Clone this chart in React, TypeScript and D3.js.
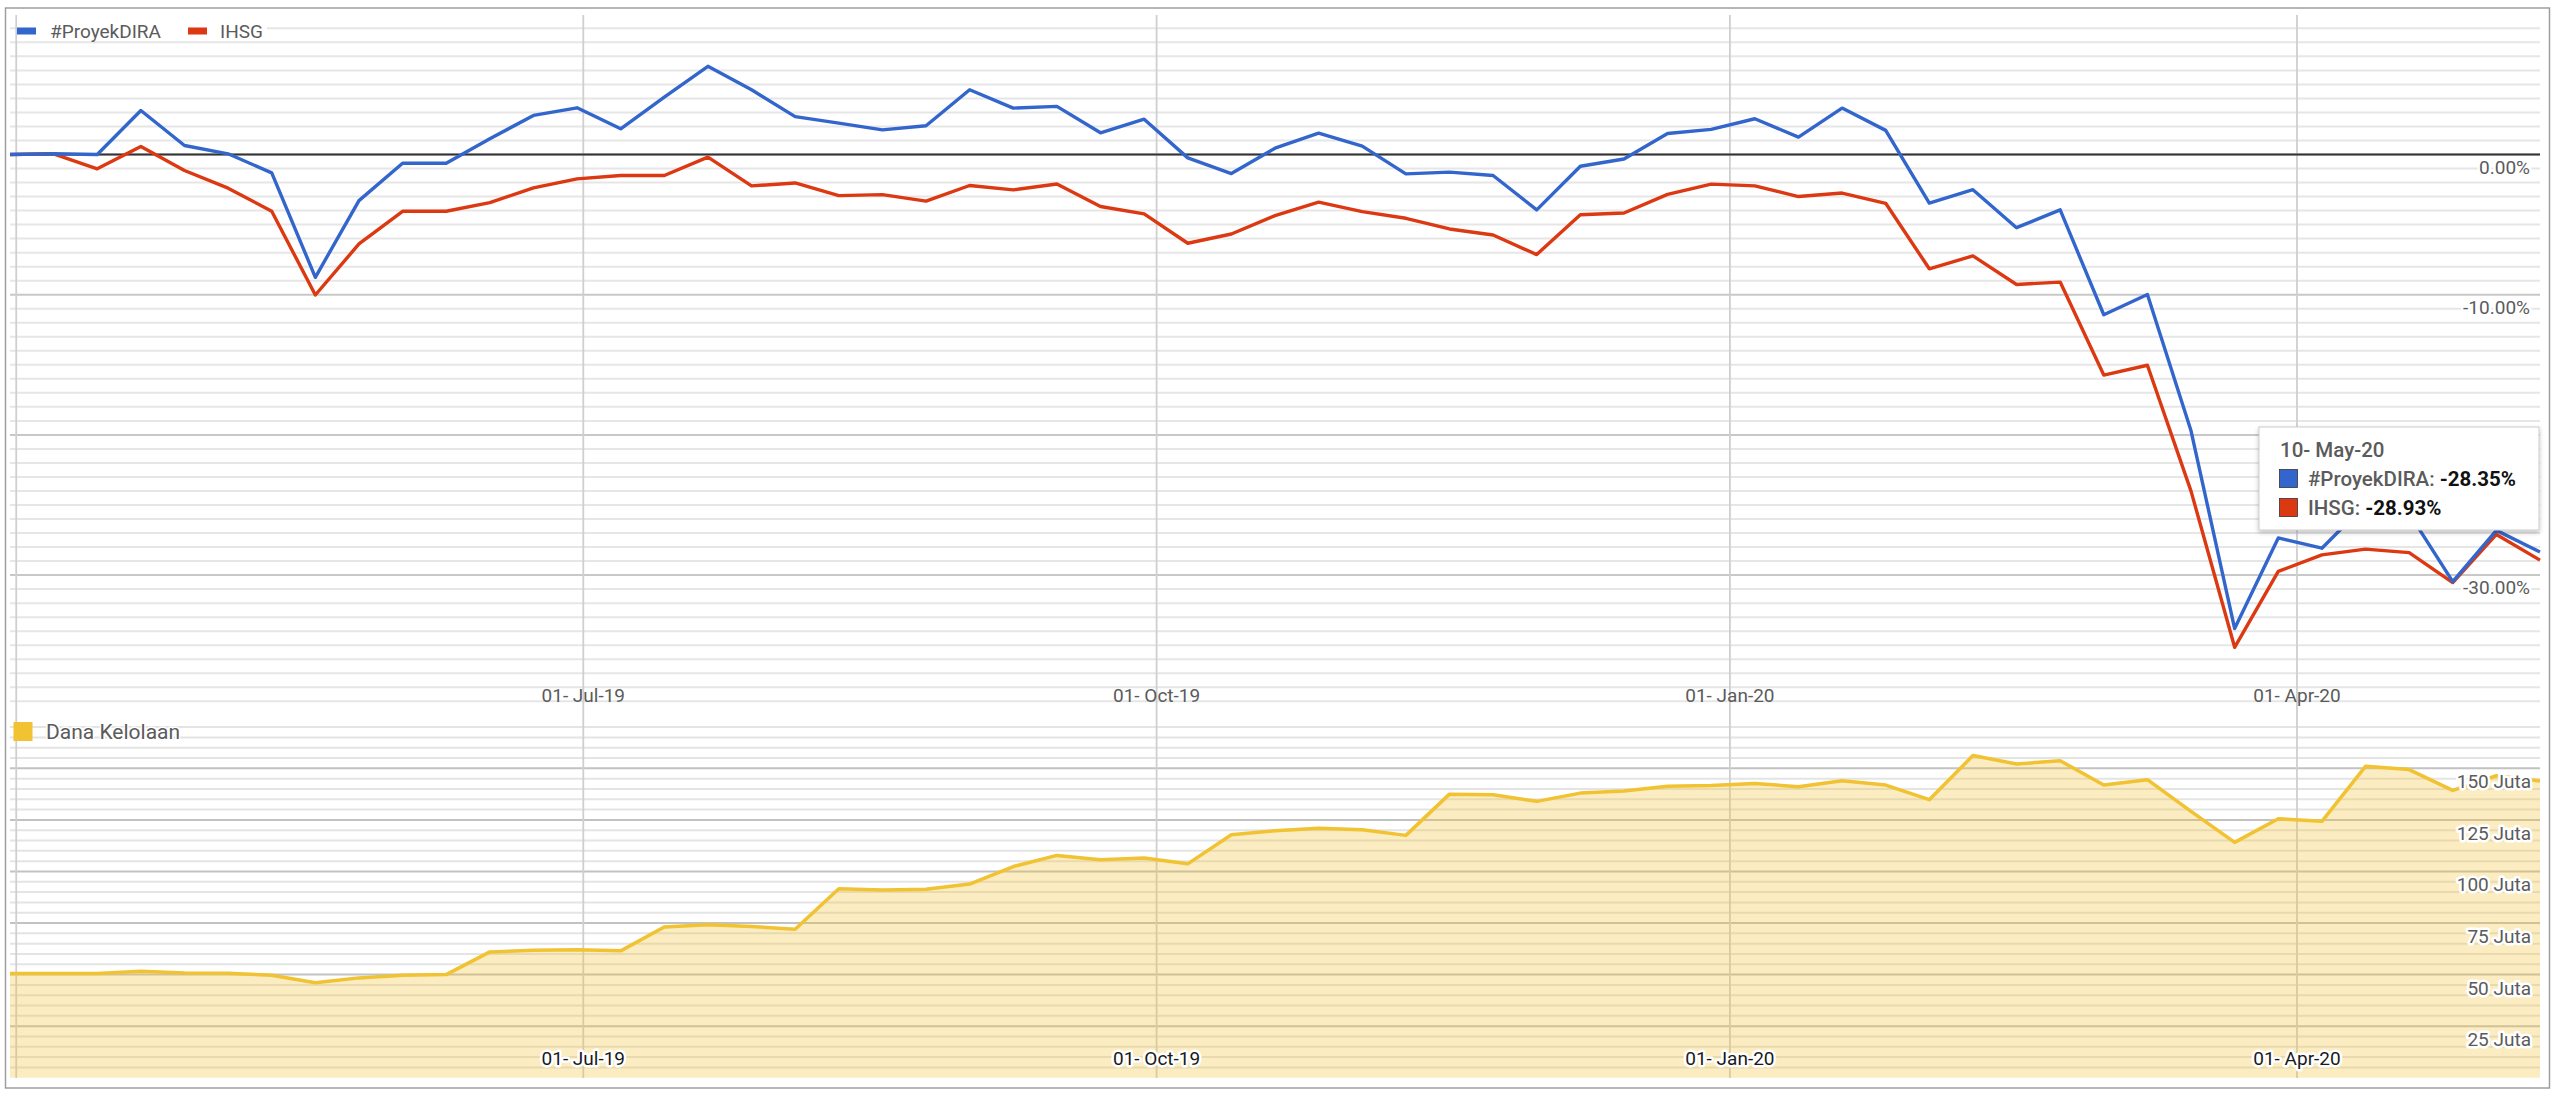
import * as d3 from 'd3';

// weekly observation dates (Sunday closes)
const DATES = [
  '2019-03-31', '2019-04-07', '2019-04-14', '2019-04-21', '2019-04-28', '2019-05-05', '2019-05-12',
  '2019-05-19', '2019-05-26', '2019-06-02', '2019-06-09', '2019-06-16', '2019-06-23', '2019-06-30',
  '2019-07-07', '2019-07-14', '2019-07-21', '2019-07-28', '2019-08-04', '2019-08-11', '2019-08-18',
  '2019-08-25', '2019-09-01', '2019-09-08', '2019-09-15', '2019-09-22', '2019-09-29', '2019-10-06',
  '2019-10-13', '2019-10-20', '2019-10-27', '2019-11-03', '2019-11-10', '2019-11-17', '2019-11-24',
  '2019-12-01', '2019-12-08', '2019-12-15', '2019-12-22', '2019-12-29', '2020-01-05', '2020-01-12',
  '2020-01-19', '2020-01-26', '2020-02-02', '2020-02-09', '2020-02-16', '2020-02-23', '2020-03-01',
  '2020-03-08', '2020-03-15', '2020-03-22', '2020-03-29', '2020-04-05', '2020-04-12', '2020-04-19',
  '2020-04-26', '2020-05-03', '2020-05-10',
];

// #ProyekDIRA return, %
const DIRA = [
  0.0, 0.05, 0.0, 3.14, 0.64, 0.05, -1.31, -8.76, -3.29, -0.62, -0.62, 1.12, 2.79, 3.33, 1.83,
  4.1, 6.29, 4.62, 2.7, 2.24, 1.76, 2.05, 4.62, 3.31, 3.43, 1.55, 2.52, -0.24, -1.36, 0.45,
  1.52, 0.6, -1.38, -1.26, -1.5, -3.95, -0.84, -0.32, 1.5, 1.79, 2.55, 1.24, 3.31, 1.72, -3.47,
  -2.51, -5.22, -3.95, -11.43, -9.99, -19.71, -33.81, -27.35, -28.08, -24.96, -25.6, -30.47, -26.81, -28.35,
];

// IHSG return, %
const IHSG = [
  0.0, 0.05, -1.02, 0.57, -1.14, -2.4, -4.05, -10.02, -6.38, -4.05, -4.05, -3.43, -2.38, -1.74, -1.5,
  -1.5, -0.19, -2.24, -2.03, -2.93, -2.86, -3.33, -2.21, -2.52, -2.1, -3.71, -4.24, -6.33, -5.67, -4.36,
  -3.4, -4.07, -4.55, -5.31, -5.74, -7.14, -4.3, -4.17, -2.84, -2.11, -2.24, -3.0, -2.75, -3.48, -8.15,
  -7.23, -9.27, -9.1, -15.73, -15.03, -24.01, -35.15, -29.74, -28.56, -28.15, -28.4, -30.53, -27.1, -28.93,
];

// Dana Kelolaan, juta rupiah
const DANA = [
  50.5, 50.5, 50.5, 51.6, 50.8, 50.6, 49.7, 46.0, 48.4, 49.7, 50.0, 61.0, 61.8, 62.1, 61.5,
  73.1, 74.2, 73.3, 72.0, 91.6, 91.0, 91.4, 93.9, 102.4, 107.8, 105.7, 106.5, 103.7, 117.8, 119.7,
  121.0, 120.2, 117.5, 137.5, 137.2, 134.0, 138.0, 139.0, 141.3, 141.7, 142.7, 141.1, 144.0, 141.9, 134.8,
  156.2, 152.1, 153.7, 141.9, 144.5, 129.1, 114.1, 125.6, 124.3, 151.0, 149.4, 139.3, 146.4, 143.9,
];

const X_TICKS = ['2019-04-01', '2019-07-01', '2019-10-01', '2020-01-01', '2020-04-01'];
const X_TICK_LABELS = ['', '01- Jul-19', '01- Oct-19', '01- Jan-20', '01- Apr-20'];
const PCT_TICKS = [0, -10, -20, -30];
const PCT_TICK_LABELS = ['0.00%', '-10.00%', '-20.00%', '-30.00%'];
const DANA_TICKS = [25, 50, 75, 100, 125, 150];
const DANA_TICK_LABELS = ['25 Juta', '50 Juta', '75 Juta', '100 Juta', '125 Juta', '150 Juta'];
const SERIES_NAMES = ['#ProyekDIRA', 'IHSG'];
const AREA_NAME = 'Dana Kelolaan';
const TOOLTIP_TITLE = '10- May-20';
const TOOLTIP_VALUES = ['-28.35%', '-28.93%'];

const WIDTH = 2560;
const HEIGHT = 1094;
const FONT = 'Roboto, "Noto Sans", Arial, sans-serif';
const BLUE = '#3366cc';
const RED = '#dc3912';
const YELLOW = '#f1c232';
const TEXT = '#5b5b5b';

const parse = d3.timeParse('%Y-%m-%d');

export default function App() {
  const dates = DATES.map((d) => parse(d) as Date);

  const x = d3
    .scaleTime()
    .domain([dates[0], dates[dates.length - 1]])
    .range([10, 2540]);

  // upper chart: percent returns
  const yTop = d3.scaleLinear().domain([10, -40]).range([14.3, 715.3]);
  // lower chart: funds under management
  const yBot = d3.scaleLinear().domain([0, 175]).range([1077.7, 716.8]);

  const line = (vals: number[]) =>
    d3
      .line<number>()
      .x((_, i) => x(dates[i]))
      .y((v) => yTop(v))(vals) as string;

  const danaLine = d3
    .line<number>()
    .x((_, i) => x(dates[i]))
    .y((v) => yBot(v))(DANA) as string;

  const danaArea = d3
    .area<number>()
    .x((_, i) => x(dates[i]))
    .y0(yBot(0))
    .y1((v) => yBot(v))(DANA) as string;

  const topGrid = d3.range(-39, 10);
  const botGrid = d3.range(5, 175, 5);
  const halo = { stroke: '#fff', strokeWidth: 5, paintOrder: 'stroke' as const, strokeLinejoin: 'round' as const };

  return (
    <svg
      width={WIDTH}
      height={HEIGHT}
      style={{ position: 'absolute', left: 0, top: 0, background: '#fff', fontFamily: FONT }}
    >
      <defs>
        <filter id="shadow" x="-10%" y="-10%" width="120%" height="130%">
          <feDropShadow dx="0" dy="2" stdDeviation="2" floodColor="#000" floodOpacity="0.25" />
        </filter>
      </defs>

      <rect x={5.5} y={8} width={2544} height={1080} fill="#fff" stroke="#9e9e9e" strokeWidth={1.5} />

      {/* upper chart gridlines */}
      {topGrid.map((v) => (
        <line
          key={`tg${v}`}
          x1={10}
          x2={2540}
          y1={yTop(v)}
          y2={yTop(v)}
          stroke={v % 10 === 0 ? '#c8c8c8' : '#e6e6e6'}
          strokeWidth={2}
        />
      ))}

      {/* lower chart gridlines */}
      {botGrid.map((v) => (
        <line
          key={`bg${v}`}
          x1={10}
          x2={2540}
          y1={yBot(v)}
          y2={yBot(v)}
          stroke={v % 25 === 0 ? '#c2c2c2' : '#e4e4e4'}
          strokeWidth={2}
        />
      ))}

      {/* vertical date gridlines */}
      {X_TICKS.map((t) => (
        <line
          key={`vx${t}`}
          x1={x(parse(t) as Date)}
          x2={x(parse(t) as Date)}
          y1={15}
          y2={1078}
          stroke="#cfcfcf"
          strokeWidth={1.8}
        />
      ))}

      {/* zero baseline */}
      <line x1={10} x2={2540} y1={yTop(0)} y2={yTop(0)} stroke="#333" strokeWidth={2} />

      {/* Dana Kelolaan area */}
      <path d={danaArea} fill={YELLOW} fillOpacity={0.3} />
      <path d={danaLine} fill="none" stroke={YELLOW} strokeWidth={3.5} strokeLinejoin="round" />

      {/* return lines */}
      <path d={line(IHSG)} fill="none" stroke={RED} strokeWidth={3.4} strokeLinejoin="round" />
      <path d={line(DIRA)} fill="none" stroke={BLUE} strokeWidth={3.4} strokeLinejoin="round" />

      {/* upper y labels */}
      {PCT_TICKS.map((v, i) => (
        <text key={`pl${v}`} x={2530} y={yTop(v) + 19} textAnchor="end" fontSize={19} fill={TEXT} {...halo}>
          {PCT_TICK_LABELS[i]}
        </text>
      ))}

      {/* upper x labels */}
      {X_TICKS.map((t, i) => (
        <text key={`xl${t}`} x={x(parse(t) as Date)} y={702} textAnchor="middle" fontSize={19} fill={TEXT}>
          {X_TICK_LABELS[i]}
        </text>
      ))}

      {/* lower y labels */}
      {DANA_TICKS.map((v, i) => (
        <text key={`dl${v}`} x={2531} y={yBot(v) + 20} textAnchor="end" fontSize={19} fill={TEXT} {...halo}>
          {DANA_TICK_LABELS[i]}
        </text>
      ))}

      {/* lower x labels */}
      {X_TICKS.map((t, i) => (
        <text key={`xb${t}`} x={x(parse(t) as Date)} y={1065} textAnchor="middle" fontSize={19} fill="#1a1a1a" {...halo}>
          {X_TICK_LABELS[i]}
        </text>
      ))}

      {/* upper legend */}
      <rect x={17} y={16} width={250} height={24} fill="#fff" />
      <rect x={17} y={27.5} width={19} height={7} fill={BLUE} />
      <text x={50} y={37.5} fontSize={19} fill={TEXT}>
        {SERIES_NAMES[0]}
      </text>
      <rect x={188} y={27.5} width={19} height={7} fill={RED} />
      <text x={220} y={37.5} fontSize={19} fill={TEXT}>
        {SERIES_NAMES[1]}
      </text>

      {/* lower legend */}
      <rect x={13.5} y={722} width={19} height={19} fill={YELLOW} />
      <text x={46} y={738.5} fontSize={21} fill={TEXT} {...halo} strokeWidth={3}>
        {AREA_NAME}
      </text>

      {/* tooltip */}
      <g>
        <rect x={2259} y={427} width={280} height={103} fill="#fff" stroke="#cccccc" strokeWidth={1} filter="url(#shadow)" />
        <text x={2280} y={457} fontSize={20.5} fontWeight={500} fill={TEXT}>
          {TOOLTIP_TITLE}
        </text>
        {SERIES_NAMES.map((name, i) => (
          <g key={`tt${name}`}>
            <rect
              x={2279.5}
              y={469.5 + i * 29}
              width={18}
              height={18}
              fill={i === 0 ? BLUE : RED}
              stroke="#333"
              strokeWidth={0.8}
            />
            <text x={2308} y={486 + i * 29} fontSize={20.5}>
              <tspan fontWeight={500} fill={TEXT}>{`${name}: `}</tspan>
              <tspan fontWeight={700} fill="#111">{TOOLTIP_VALUES[i]}</tspan>
            </text>
          </g>
        ))}
      </g>
    </svg>
  );
}
